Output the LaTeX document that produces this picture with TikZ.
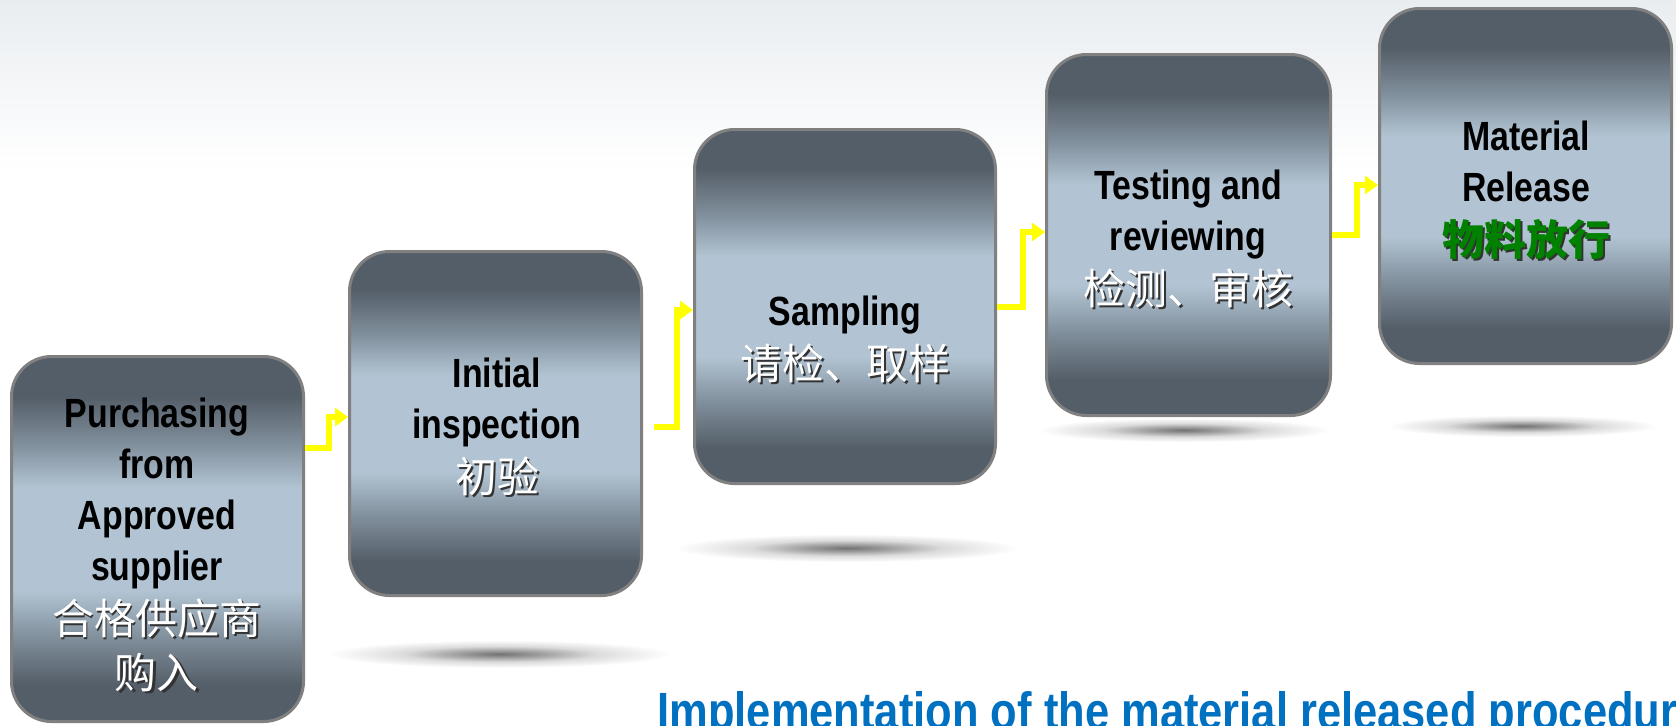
\documentclass[tikz,border=0pt]{standalone}
\usepackage{fontspec}
\setmainfont{Liberation Sans}
\newfontfamily\nar{Liberation Sans}[FakeStretch=0.83]
\newfontfamily\cjk{Noto Sans CJK SC}
\usetikzlibrary{arrows.meta,shapes.geometric,calc}
\definecolor{bdark}{RGB}{84,94,104}
\definecolor{bmid}{RGB}{128,143,156}
\definecolor{blight}{RGB}{178,196,211}
\definecolor{bedge}{RGB}{128,128,128}
\definecolor{ylw}{RGB}{255,255,0}
\definecolor{ttlblue}{RGB}{0,112,192}
\definecolor{grn}{RGB}{0,130,0}
\definecolor{bgtop}{RGB}{233,237,240}
\pgfdeclareverticalshading{boxsh}{100bp}{color(0bp)=(bdark); color(25bp)=(bdark); color(30bp)=(bdark); color(36.5bp)=(bmid); color(43bp)=(blight); color(57bp)=(blight); color(63bp)=(bmid); color(69.5bp)=(bdark); color(75bp)=(bdark); color(100bp)=(bdark)}
\pgfdeclareradialshading{shsh}{\pgfpoint{0bp}{0bp}}{color(0bp)=(black!55); color(6bp)=(black!38); color(14bp)=(black!14); color(25bp)=(white); color(50bp)=(white)}
\newcommand{\shd}[2]{\leavevmode\rlap{\hspace{1pt}\raisebox{-1pt}{\textcolor{black!80}{#2}}}\textcolor{#1}{#2}}
\tikzset{
  stepbox/.style={draw=bedge, line width=1.5pt, rounded corners=20pt, shading=boxsh, inner sep=0pt},
  lbl/.style={align=center, font=\nar\fontsize{20.4}{25.5}\selectfont\bfseries, inner sep=0pt, text=black},
  conn/.style={draw=ylw, line width=3pt, -{Triangle[length=6.5pt,width=9pt]}},
  shadowell/.style={ellipse, shading=shsh, draw=none, inner sep=0pt},
}
\newcommand{\cw}[1]{{\cjk\mdseries\fontsize{21}{25.5}\selectfont\shd{white}{#1}}}
\newcommand{\cg}[1]{{\cjk\bfseries\fontsize{21}{25.5}\selectfont\shd{grn}{#1}}}
\begin{document}
\begin{tikzpicture}[x=0.5pt,y=-0.5pt]
\useasboundingbox (0,0) rectangle (1676,725);
\clip (0,0) rectangle (1676,725);
\fill[white] (0,0) rectangle (1676,725);
\fill[top color=bgtop, bottom color=white] (0,0) rectangle (1676,170);
% shadows
\node[shadowell, minimum width=171pt, minimum height=14pt] (s2) at (500,654) {};
\node[shadowell, minimum width=172pt, minimum height=14pt] (s3) at (847,548) {};
\node[shadowell, minimum width=146pt, minimum height=12pt] (s4) at (1184,430) {};
\node[shadowell, minimum width=135pt, minimum height=11pt] (s5) at (1522,426) {};
% boxes
\node[stepbox, minimum width=146pt, minimum height=182.5pt] (b1) at (157.5,539) {};
\node[stepbox, minimum width=146pt, minimum height=172pt] (b2) at (495.5,423.5) {};
\node[stepbox, minimum width=150.5pt, minimum height=177pt] (b3) at (845,306.5) {};
\node[stepbox, minimum width=142pt, minimum height=180.5pt] (b4) at (1188.5,235) {};
\node[stepbox, minimum width=146pt, minimum height=177.5pt] (b5) at (1525.5,186) {};
% texts
\node[lbl] (t1) at (157,546) {Purchasing\\from\\Approved\\supplier\\[1.5pt]\cw{合格供应商}\\[1.5pt]\cw{购入}};
\node[lbl] (t2) at (497,428) {Initial\\inspection\\[1.5pt]\cw{初验}};
\node[lbl] (t3) at (845,340) {Sampling\\[1.5pt]\cw{请检、取样}};
\node[lbl] (t4) at (1188,240) {Testing and\\reviewing\\[1.5pt]\cw{检测、审核}};
\node[lbl] (t5) at (1526,191) {Material\\Release\\[1.5pt]\cg{物料放行}};
% connectors
\draw[conn] (b1.east |- 0,448) -| ($(b2.west |- 0,417)+(-19,0)$) -- (b2.west |- 0,417);
\draw[conn] ($(b2.east |- 0,427)+(11,0)$) -| ($(b3.west |- 0,310)+(-16,0)$) -- (b3.west |- 0,310);
\draw[conn] (b3.east |- 0,307) -| ($(b4.west |- 0,232)+(-22,0)$) -- (b4.west |- 0,232);
\draw[conn] (b4.east |- 0,235) -| ($(b5.west |- 0,185)+(-21,0)$) -- (b5.west |- 0,185);
% title
\node[anchor=base west, inner sep=0pt, font=\nar\fontsize{26.2}{30}\selectfont\bfseries, text=ttlblue] (title) at (657,729) {Implementation of the material released procedure};
\end{tikzpicture}
\end{document}
